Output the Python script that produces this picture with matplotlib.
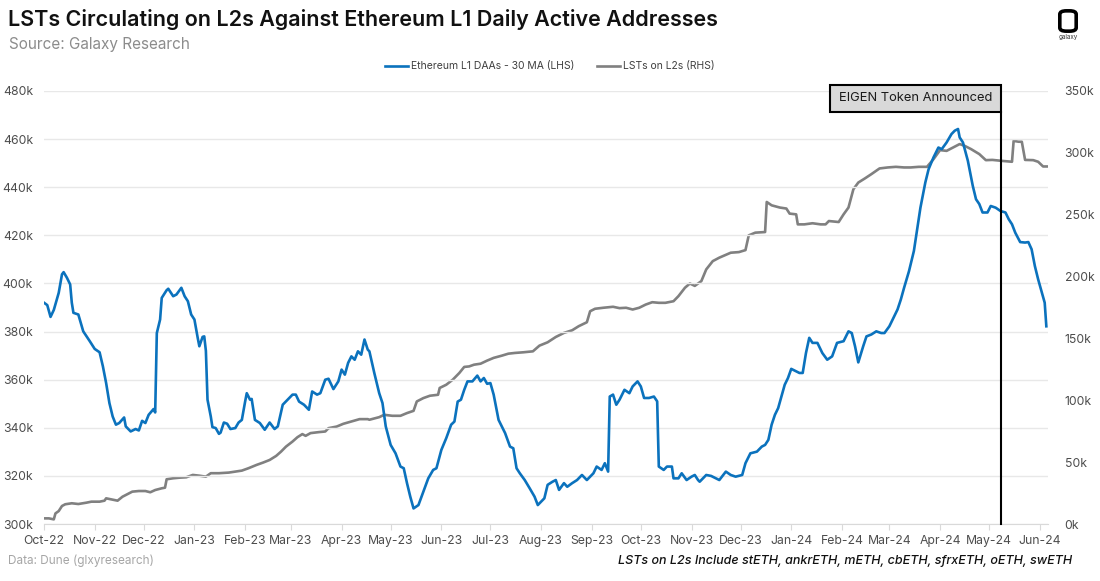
import pandas as pd
import numpy as np
import matplotlib
matplotlib.use("Agg")
import matplotlib.pyplot as plt
import matplotlib.dates as mdates
from matplotlib.patches import Rectangle, FancyBboxPatch

plt.rcParams['font.family'] = ['Inter', 'DejaVu Sans']

# day offsets from 2022-10-01 and values (thousands)
start = pd.Timestamp('2022-10-01')

daa_day = [0, 2, 4, 6, 9, 11, 12, 14, 16, 17, 18, 21, 24, 28, 31, 34, 36, 38, 40, 42,
           44, 46, 49, 50, 53, 56, 58, 60, 62, 64, 67, 68, 69, 71, 72, 75, 76, 79, 81, 84,
           86, 88, 90, 92, 94, 95, 97, 98, 99, 100, 102, 103, 105, 107, 108, 110, 112, 114, 117, 119,
           121, 123, 124, 126, 127, 129, 132, 135, 138, 141, 143, 146, 149, 152, 154, 156, 159, 162, 164, 167,
           169, 172, 174, 177, 180, 182, 184, 186, 188, 190, 192, 194, 196, 198, 199, 202, 205, 207, 209, 212,
           215, 218, 220, 222, 224, 226, 229, 232, 235, 238, 240, 243, 246, 249, 251, 253, 255, 257, 259, 262,
           265, 267, 269, 271, 273, 275, 278, 282, 285, 287, 289, 291, 294, 297, 300, 302, 304, 306, 308, 311,
           313, 315, 318, 320, 323, 326, 329, 332, 336, 338, 341, 343, 345, 346, 348, 350, 352, 355, 358, 360,
           363, 365, 367, 370, 373, 375, 376, 379, 381, 384, 385, 388, 390, 393, 396, 398, 400, 401, 405, 408,
           413, 417, 420, 423, 427, 429, 432, 436, 439, 441, 443, 445, 447, 449, 451, 453, 455, 457, 460, 462,
           464, 466, 468, 470, 473, 476, 479, 482, 485, 489, 492, 494, 496, 498, 501, 503, 506, 509, 512, 514,
           517, 519, 522, 524, 526, 529, 532, 534, 536, 539, 541, 544, 547, 549, 552, 555, 557, 559, 560, 562,
           565, 568, 570, 572, 574, 577, 579, 582, 585, 588, 590, 592, 594, 597, 600, 602, 604, 606, 608, 610,
           612, 613]
daa_val = [392.0, 391.0, 386.1, 389.0, 396.1, 403.8, 404.7, 402.4, 399.6, 392.0, 387.8, 387.1, 380.1, 376.0, 372.8, 371.4, 365.6, 358.6, 350.3, 344.7,
           341.3, 342.0, 344.3, 340.6, 338.5, 339.5, 338.9, 342.9, 342.0, 345.4, 347.8, 346.4, 379.4, 385.0, 394.0, 397.2, 397.8, 394.7, 395.4, 398.2,
           394.7, 392.6, 387.1, 385.0, 377.4, 373.9, 377.8, 378.0, 372.0, 351.7, 344.7, 340.3, 339.9, 337.5, 338.0, 342.2, 341.7, 339.5, 339.9, 342.2,
           343.3, 350.9, 354.4, 351.7, 352.0, 343.3, 342.0, 339.2, 342.2, 339.5, 340.6, 349.6, 351.7, 353.8, 353.8, 350.9, 349.6, 347.5, 355.1, 353.8,
           354.4, 360.0, 360.4, 356.1, 359.3, 364.2, 362.1, 367.0, 369.7, 368.3, 371.8, 370.4, 376.7, 372.5, 371.8, 362.8, 354.4, 350.3, 340.6, 332.9,
           329.4, 323.9, 323.2, 317.0, 311.4, 306.5, 307.9, 313.4, 319.0, 322.5, 323.2, 330.8, 335.7, 341.3, 342.6, 350.9, 351.7, 355.8, 359.3, 359.3,
           361.7, 359.3, 360.7, 358.3, 358.6, 353.8, 343.3, 337.8, 332.2, 331.5, 323.2, 321.1, 318.3, 314.9, 311.4, 307.9, 309.3, 310.7, 316.3, 317.6,
           318.3, 314.2, 317.0, 315.5, 317.0, 318.3, 320.4, 318.3, 321.1, 323.9, 322.5, 325.3, 321.8, 353.0, 353.8, 349.6, 351.7, 355.8, 354.4, 357.2,
           359.3, 357.2, 352.4, 352.4, 353.0, 351.0, 323.9, 322.5, 323.9, 323.9, 319.0, 319.0, 321.1, 318.3, 319.7, 320.4, 318.3, 317.6, 320.4, 320.0,
           318.3, 321.8, 320.4, 319.7, 320.4, 325.3, 329.4, 330.1, 332.2, 332.9, 335.0, 341.3, 345.4, 348.2, 353.0, 357.9, 360.7, 364.5, 363.5, 362.8,
           362.8, 371.1, 377.4, 375.3, 375.3, 371.1, 368.3, 369.7, 375.3, 376.0, 380.1, 379.4, 373.9, 367.2, 373.9, 378.0, 378.8, 380.1, 379.4, 379.4,
           382.2, 385.0, 389.2, 393.3, 398.2, 405.1, 413.5, 422.5, 431.5, 442.0, 447.5, 452.4, 456.5, 455.8, 458.6, 462.1, 463.5, 464.2, 460.7, 458.6,
           451.0, 440.6, 435.0, 433.0, 429.5, 429.5, 432.2, 431.5, 430.1, 429.5, 426.7, 424.6, 421.1, 417.2, 417.0, 417.2, 414.2, 407.2, 401.7, 396.8,
           392.0, 382.2]

lst_day = [0, 3, 6, 7, 9, 11, 13, 17, 21, 26, 29, 34, 37, 38, 41, 45, 48, 51, 54, 58,
           62, 65, 68, 72, 74, 75, 79, 83, 87, 91, 95, 99, 102, 107, 113, 117, 121, 125, 130, 134,
           138, 142, 145, 148, 152, 155, 158, 160, 163, 168, 172, 174, 179, 183, 188, 193, 198, 199, 205, 208,
           213, 218, 222, 226, 228, 232, 236, 241, 242, 246, 250, 254, 257, 260, 263, 267, 271, 275, 280, 284,
           288, 293, 299, 303, 308, 313, 318, 323, 327, 332, 334, 337, 342, 348, 352, 356, 360, 364, 368, 372,
           376, 380, 385, 388, 392, 395, 398, 402, 405, 409, 413, 420, 425, 429, 431, 435, 441, 442, 445, 450,
           454, 456, 460, 461, 465, 470, 475, 478, 480, 486, 489, 492, 495, 498, 502, 506, 511, 516, 521, 526,
           530, 535, 540, 544, 548, 552, 556, 560, 563, 567, 572, 576, 580, 586, 592, 593, 596, 598, 600, 605,
           608, 611, 614]
lst_val = [4.6, 4.6, 3.8, 8.6, 10.5, 14.6, 16.0, 16.8, 16.2, 17.3, 18.1, 18.1, 18.9, 20.8, 20.0, 18.9, 22.1, 24.1, 26.2, 26.7,
           26.7, 25.7, 27.5, 28.9, 29.4, 36.2, 37.0, 37.5, 37.8, 39.7, 39.1, 38.3, 41.1, 41.1, 41.6, 42.4, 43.2, 45.1, 47.8, 49.7,
           51.8, 55.1, 58.6, 62.6, 66.7, 70.2, 72.7, 71.3, 73.5, 74.3, 74.8, 77.5, 78.8, 81.0, 82.9, 84.8, 84.8, 84.3, 86.4, 88.3,
           87.5, 87.5, 89.7, 91.5, 99.1, 101.8, 103.7, 104.5, 110.0, 112.6, 116.7, 122.1, 127.0, 127.4, 128.8, 129.6, 132.1, 134.3, 136.1, 137.7,
           138.3, 138.8, 139.6, 144.2, 146.9, 151.2, 154.5, 156.6, 159.9, 163.1, 172.0, 174.0, 174.8, 175.6, 174.5, 174.8, 173.4, 174.8, 177.4, 179.3,
           178.8, 178.8, 180.1, 184.2, 191.0, 194.4, 192.5, 196.3, 205.8, 212.5, 215.3, 219.3, 219.8, 221.4, 233.3, 235.5, 236.0, 260.3, 257.6, 255.8,
           255.0, 250.9, 250.3, 242.2, 242.2, 243.1, 242.2, 242.2, 244.9, 244.1, 250.3, 255.8, 270.6, 276.0, 279.3, 282.8, 287.4, 288.2, 288.7, 288.2,
           288.2, 288.7, 288.7, 294.9, 302.2, 301.6, 304.4, 307.1, 305.7, 303.0, 299.0, 294.1, 294.3, 293.5, 292.8, 309.7, 309.0, 309.0, 294.3, 294.1,
           292.8, 289.0, 289.0]

event_day = 585
event_label = 'EIGEN Token Announced'
month_ticks = pd.date_range('2022-10-01', '2024-06-01', freq='MS')

daa_dates = start + pd.to_timedelta(daa_day, unit='D')
lst_dates = start + pd.to_timedelta(lst_day, unit='D')
event_date = start + pd.Timedelta(days=event_day)

BLUE = '#0b72bd'
GREY = '#808080'
TICK = '#4d4d4d'

fig = plt.figure(figsize=(11, 5.81), dpi=100)
ax = fig.add_axes([0.04, 0.098, 0.9127, 0.7454])
ax2 = ax.twinx()

ax.plot(daa_dates, daa_val, color=BLUE, lw=1.9, zorder=4, label='Ethereum L1 DAAs - 30 MA (LHS)')
ax2.plot(lst_dates, lst_val, color=GREY, lw=1.9, zorder=3, label='LSTs on L2s (RHS)')

ax.set_ylim(300, 480)
ax.set_yticks(np.arange(300, 481, 20))
ax.set_yticklabels([f'{v}k' for v in range(300, 481, 20)])
ax2.set_ylim(0, 350)
ax2.set_yticks(np.arange(0, 351, 50))
ax2.set_yticklabels([f'{v}k' for v in range(0, 351, 50)])
ax.set_xlim(start, start + pd.Timedelta(days=614))
ax.set_xticks(month_ticks)
ax.set_xticklabels([d.strftime('%b-%y') for d in month_ticks])

ax.grid(axis='y', color='#e8e8e8', lw=1.0)
ax.set_axisbelow(True)
for a in (ax, ax2):
    for s in a.spines.values():
        s.set_visible(False)
ax.spines['bottom'].set_visible(True)
ax.spines['bottom'].set_color('#d9d9d9')
ax.tick_params(axis='x', length=4, color='#d9d9d9', labelsize=8.8, labelcolor=TICK, pad=4)
ax.tick_params(axis='y', length=0, labelsize=8.8, labelcolor=TICK, pad=8)
ax2.tick_params(axis='y', length=0, labelsize=8.8, labelcolor=TICK, pad=12)
ax.set_zorder(ax2.get_zorder() + 1)
ax.patch.set_visible(False)

# event marker
ax.plot([event_date, event_date], [300, 471.2], color='black', lw=1.5, zorder=5, clip_on=False)
box_left = start + pd.Timedelta(days=481)
ax.add_patch(Rectangle((mdates.date2num(box_left), 471.2),
                       mdates.date2num(event_date) - mdates.date2num(box_left), 11.3,
                       facecolor='#d9d9d9', edgecolor='black', lw=1.5, zorder=6, clip_on=False))
ax.text(mdates.date2num(box_left) + (mdates.date2num(event_date) - mdates.date2num(box_left)) / 2,
        476.9, event_label, ha='center', va='center', fontsize=9.3, color='#1a1a1a', zorder=7, clip_on=False)

h1, l1 = ax.get_legend_handles_labels()
h2, l2 = ax2.get_legend_handles_labels()
fig.legend(h1 + h2, l1 + l2, loc='center', bbox_to_anchor=(0.5, 0.886), ncol=2, frameon=False,
           fontsize=7.5, handlelength=2.2, columnspacing=2.2, handletextpad=0.3, labelcolor='#404040')

fig.text(0.007, 0.966, 'LSTs Circulating on L2s Against Ethereum L1 Daily Active Addresses',
         fontsize=15.5, fontweight='semibold', color='#111111', va='center')
fig.text(0.008, 0.923, 'Source: Galaxy Research', fontsize=11, color='#8c8c8c', va='center')
fig.text(0.007, 0.034, 'Data: Dune (glxyresearch)', fontsize=8.5, color='#a6a6a6', va='center')
fig.text(0.975, 0.034, 'LSTs on L2s Include stETH, ankrETH, mETH, cbETH, sfrxETH, oETH, swETH',
         fontsize=9, style='italic', fontweight='medium', color='#111111', ha='right', va='center')

# logo
fig.patches.append(FancyBboxPatch((1062 / 1100, 1 - 30 / 581), 12 / 1100, 18 / 581,
                                  boxstyle='round,pad=0.002,rounding_size=0.006',
                                  transform=fig.transFigure, facecolor='white',
                                  edgecolor='black', lw=2.6))
fig.text(1068 / 1100, 1 - 37 / 581, 'galaxy', fontsize=4.5, color='#333333', ha='center', va='center')

fig.savefig('out.png', dpi=100)
